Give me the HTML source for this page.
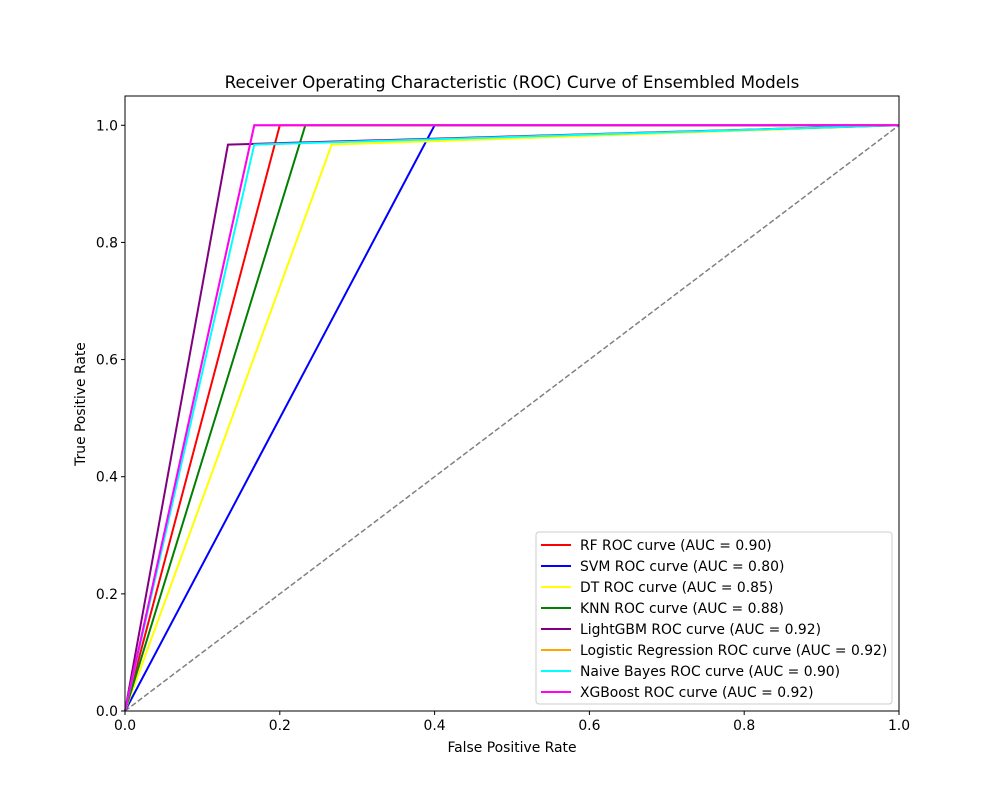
<!DOCTYPE html>
<html><head><meta charset="utf-8"><style>body{margin:0;background:#fff}svg{font-family:"DejaVu Sans","Liberation Sans",sans-serif}</style></head>
<body>
<svg id="chart" width="999" height="799"></svg>
<script>
const seriesNames=["RF ROC curve (AUC = 0.90)","SVM ROC curve (AUC = 0.80)","DT ROC curve (AUC = 0.85)","KNN ROC curve (AUC = 0.88)","LightGBM ROC curve (AUC = 0.92)","Logistic Regression ROC curve (AUC = 0.92)","Naive Bayes ROC curve (AUC = 0.90)","XGBoost ROC curve (AUC = 0.92)"];
const seriesColors=["red","blue","yellow","green","purple","orange","cyan","magenta"];
const seriesFpr=[[0,0.2,1],[0,0.4,1],[0,0.267,1],[0,0.233,1],[0,0.133,1],[0,0.167,1],[0,0.167,1],[0,0.167,1]];
const seriesTpr=[[0,1,1],[0,1,1],[0,0.967,1],[0,1,1],[0,0.967,1],[0,1,1],[0,0.967,1],[0,1,1]];
const xTicks=[0,0.2,0.4,0.6,0.8,1.0];
const yTicks=[0,0.2,0.4,0.6,0.8,1.0];
const L=125,R=899,T=96,B=711,YMAX=1.05;
const sx=v=>L+(R-L)*v, sy=v=>B-(B-T)*v/YMAX;
const svg=document.getElementById('chart');const NS='http://www.w3.org/2000/svg';
function mk(t,a,txt){const e=document.createElementNS(NS,t);for(const k in a)e.setAttribute(k,a[k]);if(txt!=null)e.textContent=txt;svg.appendChild(e);return e;}
let e=mk('text',{x:512,y:88,'text-anchor':'middle','font-size':16.7},'Receiver Operating Characteristic (ROC) Curve of Ensembled Models');

e=mk('line',{x1:sx(0),y1:sy(0),x2:sx(1),y2:sy(1),stroke:'gray','stroke-width':1.5,'stroke-dasharray':'5.5,2.5'});

seriesNames.forEach((n,i)=>{const pts=seriesFpr[i].map((x,j)=>sx(x)+','+sy(seriesTpr[i][j])).join(' ');
const p=mk('polyline',{points:pts,fill:'none',stroke:seriesColors[i],'stroke-width':2});
});
e=mk('rect',{x:L,y:T,width:R-L,height:B-T,fill:'none',stroke:'#000','stroke-width':1});

xTicks.forEach(v=>{const x=sx(v);mk('line',{x1:x,y1:B,x2:x,y2:B+4,stroke:'#000'});
const t=mk('text',{x:x,y:B+19,'text-anchor':'middle','font-size':13.9},v.toFixed(1));
});
yTicks.forEach(v=>{const y=sy(v);mk('line',{x1:L-4,y1:y,x2:L,y2:y,stroke:'#000'});
const t=mk('text',{x:L-7,y:y+5,'text-anchor':'end','font-size':13.9},v.toFixed(1));
});
e=mk('text',{x:512,y:752,'text-anchor':'middle','font-size':13.9},'False Positive Rate');

e=mk('text',{x:85,y:404,'text-anchor':'middle','font-size':13.9,transform:'rotate(-90 85 404)'},'True Positive Rate');

e=mk('rect',{x:536,y:532,width:356,height:172,rx:3,fill:'#fff','fill-opacity':0.8,stroke:'#ccc'});

seriesNames.forEach((n,i)=>{const y=545+i*21;
mk('line',{x1:541,y1:y,x2:571,y2:y,stroke:seriesColors[i],'stroke-width':2});
const t=mk('text',{x:580,y:y+5,'font-size':13.9},n);
});
</script>
</body></html>
